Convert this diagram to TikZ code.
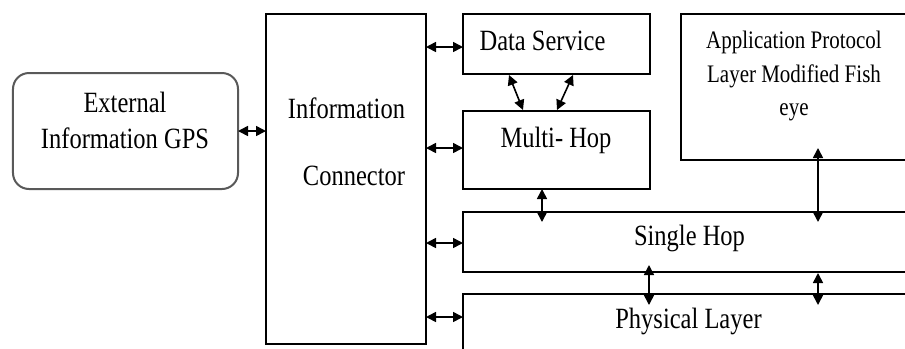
\documentclass[tikz,border=0pt]{standalone}
\usepackage{fontspec}
\setmainfont{Liberation Serif}
\usetikzlibrary{arrows.meta,calc}
\newcommand{\vstr}[1]{\scalebox{1}[1.2]{#1}}
\tikzset{
  box/.style={draw=black,line width=1.3bp,rectangle,inner sep=0pt,outer sep=0pt},
  rbox/.style={draw=black!65,line width=2bp,rectangle,rounded corners=16bp,inner sep=0pt,outer sep=0pt},
  lbl/.style={inner sep=0pt,outer sep=0pt,anchor=base,font=\fontsize{24.5bp}{30bp}\selectfont},
  slbl/.style={inner sep=0pt,outer sep=0pt,anchor=base,font=\fontsize{21bp}{26bp}\selectfont},
  arr/.style={line width=1.6bp,<->,>={Triangle[length=10bp,width=10bp]}}
}
\begin{document}
\begin{tikzpicture}[x=1bp,y=-1bp]
\clip (0,0) rectangle (905,348);
\fill[white] (0,0) rectangle (905,348);
% boxes
\node[rbox,minimum width=225bp,minimum height=116bp] (ext) at (125.5,131) {};
\node[box,minimum width=160bp,minimum height=330bp] (conn) at (346,179) {};
\node[box,minimum width=187bp,minimum height=60bp] (ds) at (556.5,44) {};
\node[box,minimum width=187bp,minimum height=78bp] (mh) at (556.5,150) {};
\node[box,minimum width=249bp,minimum height=146bp] (app) at (805.5,87) {};
\node[box,minimum width=467bp,minimum height=60bp] (sh) at (696.5,242) {};
\node[box,minimum width=467bp,minimum height=76bp] (ph) at (696.5,332) {};
% texts
\node[lbl] (extA) at (125,112) {\vstr{External}};
\node[lbl] (extB) at (125,148) {\vstr{Information GPS}};
\node[lbl,anchor=base east] (connA) at (405,118) {\vstr{Information}};
\node[lbl,anchor=base east] (connB) at (405,185) {\vstr{Connector}};
\node[lbl] (dsT) at (542.5,50) {\vstr{Data Service}};
\node[lbl] (mhT) at (556,147) {\vstr{Multi- Hop}};
\node[slbl] (appA) at (794,48) {\vstr{Application Protocol}};
\node[slbl] (appB) at (794,82) {\vstr{Layer Modified Fish}};
\node[slbl] (appC) at (794,115) {\vstr{eye}};
\node[lbl] (shT) at (689.5,245) {\vstr{Single Hop}};
\node[lbl] (phT) at (688.5,328) {\vstr{Physical Layer}};
% connectors
\draw[arr] (ext.east) -- (ext.east -| conn.west);
\draw[arr] ($(conn.east |- ds.west)+(0,3)$) -- ($(ds.west)+(0,3)$);
\draw[arr] ($(conn.east |- mh.west)+(0,-2)$) -- ($(mh.west)+(0,-2)$);
\draw[arr] ($(conn.east |- sh.west)+(0,1)$) -- ($(sh.west)+(0,1)$);
\draw[arr] ($(conn.east |- ph.north west)+(0,23)$) -- ($(ph.north west)+(0,23)$);
\draw[arr] ($(ds.south west)+(46,1)$) -- ($(mh.north west)+(60,-1)$);
\draw[arr] ($(ds.south west)+(110,1)$) -- ($(mh.north west)+(94,-1)$);
\draw[arr] ($(mh.south west)+(79,0)$) -- ($(sh.north west)+(79,10)$);
\draw[arr] ($(app.south west)+(137,-12)$) -- ($(sh.north west)+(355,10)$);
\draw[arr] ($(sh.south west)+(186,-7)$) -- ($(ph.north west)+(186,11)$);
\draw[arr] ($(sh.south west)+(355,1)$) -- ($(ph.north west)+(355,11)$);
\end{tikzpicture}
\end{document}
